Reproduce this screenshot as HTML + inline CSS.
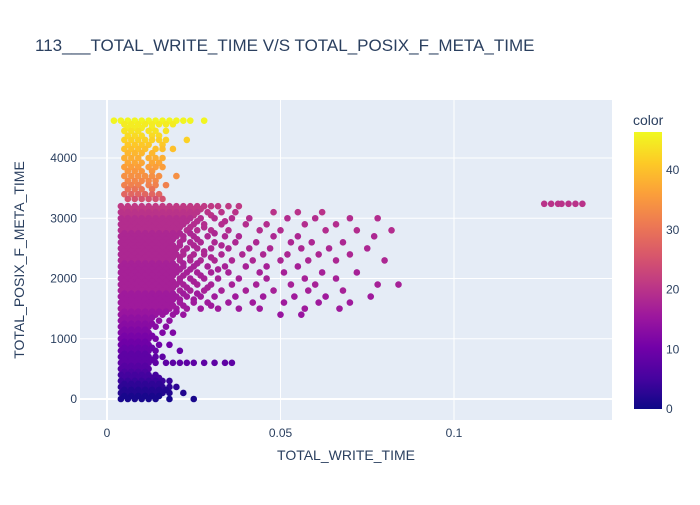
<!DOCTYPE html>
<html><head><meta charset="utf-8"><style>
body{margin:0;background:#fff;font-family:"Liberation Sans",sans-serif}
svg text{font-family:"Liberation Sans",sans-serif;fill:#2a3f5f}
</style></head><body>
<svg id="chart" width="700" height="500">
<defs><linearGradient id="cg" x1="0" y1="1" x2="0" y2="0">
<stop offset="0" stop-color="#0d0887"/><stop offset="0.111" stop-color="#46039f"/><stop offset="0.222" stop-color="#7201a8"/><stop offset="0.333" stop-color="#9c179e"/><stop offset="0.444" stop-color="#bd3786"/><stop offset="0.555" stop-color="#d8576b"/><stop offset="0.666" stop-color="#ed7953"/><stop offset="0.777" stop-color="#fb9f3a"/><stop offset="0.888" stop-color="#fdca26"/><stop offset="1" stop-color="#f0f921"/></linearGradient></defs>
<text x="35" y="51" font-size="17">113___TOTAL_WRITE_TIME V/S TOTAL_POSIX_F_META_TIME</text>
<rect x="80" y="100" width="532" height="320" fill="#e5ecf6"/>
<g id="grid"></g><g id="pts"></g><g id="axes"></g>
<text x="346" y="460" font-size="14" text-anchor="middle">TOTAL_WRITE_TIME</text>
<text transform="translate(24,260) rotate(-90)" font-size="14" text-anchor="middle">TOTAL_POSIX_F_META_TIME</text>
<text x="633" y="125" font-size="14">color</text>
<rect x="634" y="132" width="28" height="277" fill="url(#cg)"/>
<g id="cbticks"></g>
</svg>
<script>
const xTicks=[0,0.05,0.1];
const xTickLabels=["0","0.05","0.1"];
const yTicks=[0,1000,2000,3000,4000];
const cTicks=[0,10,20,30,40];
const rowY=[4620,4560,4500,4450,4370,4300,4220,4150,4080,4000,3920,3850,3780,3700,3620,3550,3480,3400,3320,3240,3200,3150,3100,3050,3000,2950,2900,2850,2800,2750,2700,2650,2600,2550,2500,2450,2400,2350,2300,2250,2200,2150,2100,2050,2000,1950,1900,1850,1800,1750,1700,1650,1600,1550,1500,1450,1400,1350,1300,1250,1200,1150,1100,1050,1000,950,900,850,800,750,700,650,600,550,500,450,400,350,300,250,200,150,100,50,0];
const rowC=[46,45,45,44,43,42,41,40,39,38,37,36,35,34,33,32,30,28,25,20,21,21,20,20,19,19,19,19,19,18,18,18,18,18,18,18,18,18,18,17,17,17,17,17,17,17,17,17,17,16,16,16,16,16,16,15,15,14,14,13,13,12,12,11,11,10,10,9,9,8,8,8,8,7,7,6,5,5,4,3,3,2,2,1,1];
const rowXs=[
"2 4 6 8 10 12 14 16 18 20 22 24 28","5 7 9 11 13 15 17 19","6 8 10 13","5 7 9 12 14 17","6 8 10 13 15","5 7 9 11 13 15 17 23","6 8 10 12 16","5 7 9 11 14 16 19","6 8 10 13","5 7 9 12 14 16","6 8 10 13 15","5 7 9 12 14 16","6 8 10 13","5 7 9 11 13 15 20","6 8 10 12 14","5 7 9 12 14 17","6 8 10 13","5 7 9 11 13 15","6 8 10 12 14 16",
"126 128 130 131 133 135 137",
"4 6 8 10 12 14 16 18 20 22 24 26 28 30 32 35 38",
"5 7 9 11 13 15 17 19 21 23 25 27",
"4 6 8 10 12 14 16 18 20 22 24 26 29 33 37 48 55 62",
"5 7 9 11 13 15 17 19 21 23 25 30",
"4 6 8 10 12 14 16 18 20 22 24 27 31 36 41 52 60 70 78",
"5 7 9 11 13 15 17 19 21 23 26 34",
"4 6 8 10 12 14 16 18 20 22 25 28 33 40 46 57 66",
"5 7 9 11 13 15 17 19 21 24 28",
"4 6 8 10 12 14 16 18 20 23 26 30 35 44 50 63 72 82",
"5 7 9 11 13 15 17 19 21 24 31",
"4 6 8 10 12 14 16 18 20 22 25 29 34 38 48 55 77",
"5 7 9 11 13 15 17 19 22 26",
"4 6 8 10 12 14 16 18 21 24 27 31 37 43 53 59 68",
"5 7 9 11 13 15 17 19 21 25 33",
"4 6 8 10 12 14 16 18 20 23 26 30 35 41 47 56 64 75",
"5 7 9 11 13 15 17 19 22 28",
"4 6 8 10 12 14 16 18 20 22 25 28 33 39 45 52 61 70",
"5 7 9 11 13 15 17 19 21 24 30",
"4 6 8 10 12 14 16 18 21 24 27 31 36 42 50 58 66 80",
"5 7 9 11 13 15 17 19 22 26",
"4 6 8 10 12 14 16 18 20 22 25 29 34 40 46 55",
"5 7 9 11 13 15 17 19 21 24 32",
"4 6 8 10 12 14 16 18 20 23 26 30 35 44 51 62 72",
"5 7 9 11 13 15 17 19 22 27",
"4 6 8 10 12 14 16 18 21 24 28 32 38 46 57 66",
"5 7 9 11 13 15 17 19 21 25",
"4 6 8 10 12 14 16 18 20 22 26 30 36 43 53 60 78 84",
"5 7 9 11 13 15 17 19 23 29",
"4 6 8 10 12 14 16 18 21 24 28 33 40 48 58 68",
"5 7 9 11 13 15 17 19 22 26",
"4 6 8 10 12 14 16 18 20 23 27 31 37 45 54 63 76",
"5 7 9 11 13 15 17 19 21 25",
"4 6 8 10 12 14 16 18 21 25 29 35 42 51 61 70",
"5 7 9 11 13 15 17 19 22 30",
"4 6 8 10 12 14 16 18 20 23 27 32 38 44 57 67",
"5 7 9 11 13 15 17 20",
"4 6 8 10 12 14 16 19 22 50 56",
"5 7 9 11 13",
"4 6 8 10 12 15 18","5 7 9 11 13","4 6 8 10 12 14 17","5 7 9 11","4 6 8 10 12 16 19","5 7 9 11 13","4 6 8 10 12 14","5 7 9 11","4 6 8 10 12 15 18","5 7 9 11 13","4 6 8 10 12 14 21","5 7 9 11","4 6 8 10 12 14 16","5 7 9 11 13",
"4 6 8 10 12 14 17 19 21 23 25 28 31 34 36","5 7 9 11","4 6 8 10 12","5 7 9 11","4 6 8 10 12 14","5 7 9 11 13 15","4 6 8 10 12 14 16 18","5 7 9 11 13 15","4 6 8 10 12 14 16 18 20","5 7 9 11 13 15 17","4 6 8 10 12 14 16 18 22","5 7 9 11 13 15","4 6 8 10 12 14 18 25"];
const NS="http://www.w3.org/2000/svg";
const X=v=>107+v*3470, Y=v=>399-v*0.06025, CY=v=>409-v*5.97;
const stops=["#0d0887","#46039f","#7201a8","#9c179e","#bd3786","#d8576b","#ed7953","#fb9f3a","#fdca26","#f0f921"];
function hx(h){return [1,3,5].map(i=>parseInt(h.substr(i,2),16));}
function col(c){let t=Math.max(0,Math.min(1,c/46.4))*9,i=Math.min(8,Math.floor(t)),f=t-i,a=hx(stops[i]),b=hx(stops[i+1]);return "rgb("+a.map((v,k)=>Math.round(v+(b[k]-v)*f)).join(",")+")";}
function mk(tag,at,parent){const e=document.createElementNS(NS,tag);for(const k in at)e.setAttribute(k,at[k]);parent.appendChild(e);return e;}
const grid=document.getElementById('grid'),axes=document.getElementById('axes'),pts=document.getElementById('pts'),cb=document.getElementById('cbticks');
xTicks.forEach((t,i)=>{
 const l=mk('line',{x1:X(t),x2:X(t),y1:100,y2:420,stroke:'#fff','stroke-width':t===0?2:1},grid);
 
 
 const tx=mk('text',{x:X(t),y:437,'font-size':12,'text-anchor':'middle'},axes);tx.textContent=xTickLabels[i];
 
 
});
yTicks.forEach(t=>{
 const l=mk('line',{x1:80,x2:612,y1:Y(t),y2:Y(t),stroke:'#fff','stroke-width':t===0?2:1},grid);
 
 
 const tx=mk('text',{x:77,y:Y(t)+4,'font-size':12,'text-anchor':'end'},axes);tx.textContent=t;
 
 
});
rowY.forEach((y,r)=>{
 (rowXs[r]||"").split(' ').filter(s=>s).forEach(s=>{
  const c=mk('circle',{cx:X(+s/1000),cy:Y(y),r:3.3,fill:col(rowC[r])},pts);
  
  
 });
});
cTicks.forEach(t=>{
 const tx=mk('text',{x:666,y:CY(t)+4,'font-size':12},cb);tx.textContent=t;
 
 
});
</script>
</body></html>
